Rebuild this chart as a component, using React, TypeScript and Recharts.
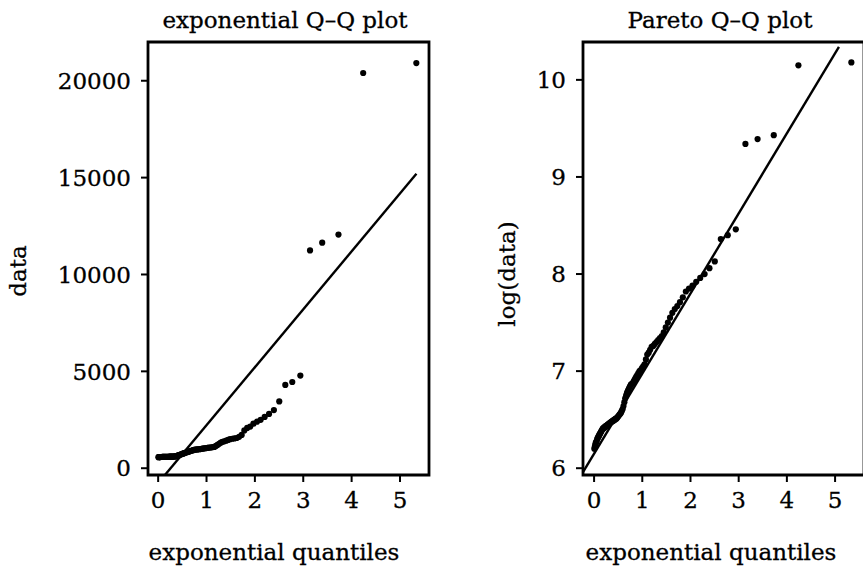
import {
  ScatterChart,
  Scatter,
  XAxis,
  YAxis,
  ReferenceLine,
  ReferenceArea,
} from "recharts";

// exponential plotting positions (shared by both panels), ascending
const quantiles = [
  0.005, 0.015, 0.024, 0.034, 0.044, 0.054, 0.065, 0.075, 0.085, 0.096,
  0.106, 0.117, 0.128, 0.139, 0.15, 0.161, 0.173, 0.184, 0.196, 0.208,
  0.22, 0.232, 0.244, 0.256, 0.269, 0.281, 0.294, 0.307, 0.32, 0.334,
  0.347, 0.361, 0.375, 0.389, 0.403, 0.418, 0.432, 0.447, 0.462, 0.478,
  0.493, 0.509, 0.525, 0.542, 0.558, 0.575, 0.593, 0.61, 0.628, 0.646,
  0.665, 0.684, 0.703, 0.722, 0.742, 0.763, 0.784, 0.805, 0.827, 0.849,
  0.872, 0.895, 0.919, 0.943, 0.968, 0.994, 1.02, 1.047, 1.075, 1.103,
  1.133, 1.163, 1.194, 1.227, 1.26, 1.294, 1.33, 1.367, 1.406, 1.446,
  1.487, 1.531, 1.576, 1.624, 1.674, 1.727, 1.782, 1.841, 1.904, 1.97,
  2.042, 2.119, 2.202, 2.293, 2.393, 2.504, 2.629, 2.773, 2.94, 3.14,
  3.392, 3.728, 4.239, 5.338,
];

// sorted sample, left panel
const expData = [
  570, 572, 574, 575, 577, 578, 579, 580, 581, 582,
  583, 584, 585, 586, 587, 588, 589, 590, 591, 592,
  593, 594, 595, 596, 597, 598, 600, 602, 604, 606,
  610, 615, 625, 635, 645, 660, 675, 690, 705, 720,
  735, 750, 765, 780, 795, 810, 825, 840, 855, 870,
  885, 900, 915, 930, 945, 955, 965, 970, 975, 980,
  990, 1000, 1010, 1020, 1030, 1040, 1050, 1060, 1070, 1080,
  1090, 1100, 1150, 1200, 1260, 1320, 1360, 1390, 1420, 1460,
  1500, 1520, 1540, 1560, 1620, 1720, 1950, 2080, 2150, 2300,
  2400, 2500, 2650, 2800, 3000, 3450, 4300, 4450, 4780, 11240,
  11640, 12060, 20400, 20910,
];

// log of the sample, right panel
const logData = [
  6.2, 6.22, 6.24, 6.26, 6.27, 6.28, 6.3, 6.31, 6.32, 6.33,
  6.34, 6.35, 6.36, 6.37, 6.38, 6.39, 6.4, 6.41, 6.41, 6.42,
  6.42, 6.43, 6.43, 6.44, 6.44, 6.45, 6.45, 6.46, 6.46, 6.47,
  6.47, 6.48, 6.48, 6.49, 6.49, 6.5, 6.5, 6.51, 6.51, 6.52,
  6.53, 6.54, 6.55, 6.56, 6.57, 6.59, 6.61, 6.64, 6.68, 6.72,
  6.75, 6.78, 6.8, 6.82, 6.84, 6.86, 6.87, 6.88, 6.9, 6.92,
  6.94, 6.96, 6.98, 7.0, 7.01, 7.03, 7.05, 7.07, 7.12, 7.17,
  7.19, 7.22, 7.25, 7.26, 7.28, 7.3, 7.32, 7.34, 7.36, 7.4,
  7.45, 7.5, 7.55, 7.6, 7.64, 7.67, 7.71, 7.76, 7.82, 7.85,
  7.88, 7.92, 7.96, 8.0, 8.06, 8.13, 8.36, 8.4, 8.46, 9.34,
  9.39, 9.43, 10.15, 10.18,
];

// fitted lines, [start, end] in data units
const expFit = [
  { x: 0.14, y: -350 },
  { x: 5.34, y: 15200 },
];
const paretoFit = [
  { x: -0.23, y: 5.96 },
  { x: 5.08, y: 10.34 },
];

const xTicks = [0, 1, 2, 3, 4, 5];
const expTicks = [0, 5000, 10000, 15000, 20000];
const logTicks = [6, 7, 8, 9, 10];

const FONT = "DejaVu Serif";
const tickStyle = { fill: "#000", fontSize: 23, fontFamily: FONT, stroke: "#000", strokeWidth: 0.3 };

const Dot = (props: any) => <circle cx={props.cx} cy={props.cy} r={3.1} fill="#000" />;

function Panel({
  data,
  xDomain,
  yDomain,
  yTicks,
  fit,
}: {
  data: { q: number; v: number }[];
  xDomain: [number, number];
  yDomain: [number, number];
  yTicks: number[];
  fit: { x: number; y: number }[];
}) {
  return (
    <ScatterChart width={440} height={570} margin={{ top: 42, right: 11, bottom: 0, left: 0 }}>
      <XAxis
        type="number"
        dataKey="q"
        domain={xDomain}
        ticks={xTicks}
        allowDataOverflow
        height={95}
        axisLine={false}
        tickLine={{ stroke: "#000", strokeWidth: 2 }}
        tickSize={7}
        tickMargin={10}
        tick={tickStyle}
      />
      <YAxis
        type="number"
        dataKey="v"
        domain={yDomain}
        ticks={yTicks}
        allowDataOverflow
        width={148}
        axisLine={false}
        tickLine={{ stroke: "#000", strokeWidth: 2 }}
        tickSize={7}
        tickMargin={10}
        tick={tickStyle}
      />
      <ReferenceArea
        x1={xDomain[0]}
        x2={xDomain[1]}
        y1={yDomain[0]}
        y2={yDomain[1]}
        fill="none"
        stroke="#000"
        strokeWidth={2.8}
        ifOverflow="visible"
      />
      <ReferenceLine segment={fit} stroke="#000" strokeWidth={2.4} ifOverflow="hidden" />
      <Scatter data={data} shape={Dot} isAnimationActive={false} />
    </ScatterChart>
  );
}

export default function App() {
  const expRows = quantiles.map((q, i) => ({ q, v: expData[i] }));
  const logRows = quantiles.map((q, i) => ({ q, v: logData[i] }));

  return (
    <div
      style={{
        position: "absolute",
        left: 0,
        top: 0,
        width: 863,
        height: 570,
        overflow: "hidden",
        background: "#fff",
      }}
    >
      <div style={{ position: "absolute", left: 0, top: 0 }}>
        <Panel data={expRows} xDomain={[-0.21, 5.6]} yDomain={[-350, 22000]} yTicks={expTicks} fit={expFit} />
      </div>
      <div style={{ position: "absolute", left: 435, top: 0 }}>
        <Panel data={logRows} xDomain={[-0.23, 5.6]} yDomain={[5.93, 10.39]} yTicks={logTicks} fit={paretoFit} />
      </div>
      {/* titles and axis labels */}
      <svg
        width={863}
        height={570}
        style={{ position: "absolute", left: 0, top: 0, pointerEvents: "none" }}
        fontFamily={FONT}
        fontSize={23}
        fill="#000"
        stroke="#000"
        strokeWidth={0.3}
      >
        <text x={285} y={28} textAnchor="middle">exponential Q–Q plot</text>
        <text x={720} y={28} textAnchor="middle">Pareto Q–Q plot</text>
        <text x={274} y={560} textAnchor="middle">exponential quantiles</text>
        <text x={711} y={560} textAnchor="middle">exponential quantiles</text>
        <text transform="translate(26,271) rotate(-90)" textAnchor="middle">data</text>
        <text transform="translate(515,274) rotate(-90)" textAnchor="middle">log(data)</text>
      </svg>
    </div>
  );
}
